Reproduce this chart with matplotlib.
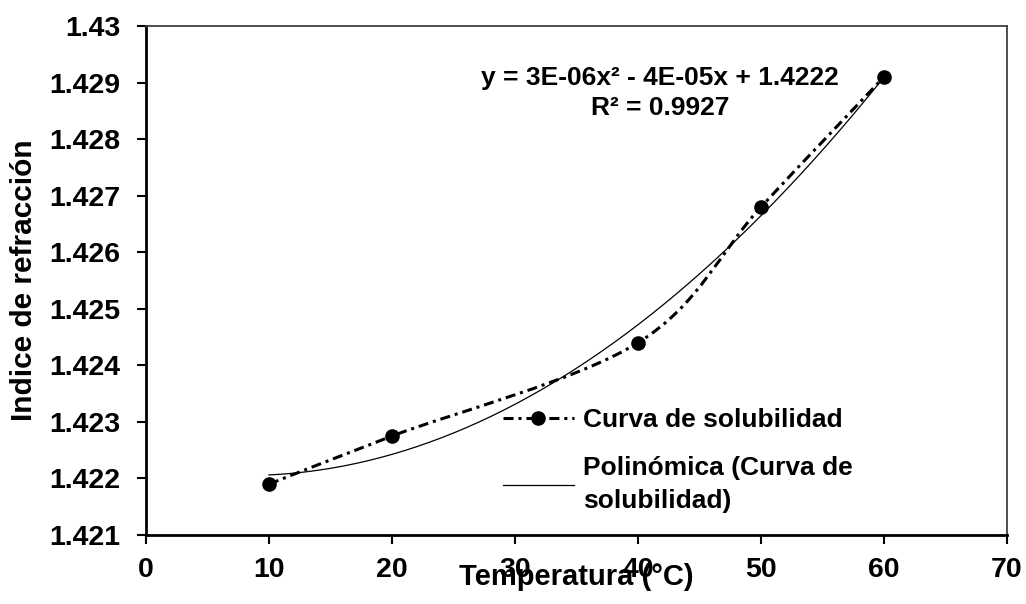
import numpy as np
import matplotlib
matplotlib.use("Agg")
import matplotlib.pyplot as plt
from matplotlib.path import Path
from matplotlib.patches import PathPatch
from matplotlib.lines import Line2D

plt.rcParams['font.family'] = ['Liberation Sans', 'DejaVu Sans']
plt.rcParams['font.weight'] = 'bold'

# Datos
temperatura = np.array([10, 20, 40, 50, 60])
indice = np.array([1.4219, 1.42275, 1.4244, 1.4268, 1.4291])
x_ticks = [0, 10, 20, 30, 40, 50, 60, 70]
y_ticks = [1.421, 1.422, 1.423, 1.424, 1.425, 1.426, 1.427, 1.428, 1.429, 1.43]
y_labels = ["1.421", "1.422", "1.423", "1.424", "1.425", "1.426", "1.427", "1.428", "1.429", "1.43"]
ecuacion = "y = 3E-06x² - 4E-05x + 1.4222\nR² = 0.9927"

fig = plt.figure(figsize=(10.26, 6.04), dpi=100)
ax = fig.add_axes([0.1423, 0.1142, 0.8392, 0.8428])

# Linea suavizada (estilo Excel: Bezier tipo Catmull-Rom)
pts = np.column_stack([temperatura, indice])
verts = [pts[0]]
codes = [Path.MOVETO]
n = len(pts)
for i in range(n - 1):
    p0 = pts[i - 1] if i > 0 else pts[i]
    p1 = pts[i]
    p2 = pts[i + 1]
    p3 = pts[i + 2] if i + 2 < n else pts[i + 1]
    c1 = p1 + (p2 - p0) / 6.0
    c2 = p2 - (p3 - p1) / 6.0
    verts += [c1, c2, p2]
    codes += [Path.CURVE4] * 3
estilo = (0, (3.3, 1.6, 1.0, 1.6))
ax.add_patch(PathPatch(Path(verts, codes), facecolor='none', edgecolor='black',
                       lw=2.2, linestyle=estilo, zorder=3))
ax.plot(temperatura, indice, 'o', color='black', markersize=9.5, zorder=4)

# Linea de tendencia polinomica
coef = np.polyfit(temperatura, indice, 2)
modelo = np.poly1d(coef)
x_line = np.linspace(temperatura.min(), temperatura.max(), 200)
ax.plot(x_line, modelo(x_line), color='black', lw=0.9, zorder=2)

ax.text(41.8, 1.42882, ecuacion, ha='center', va='center', fontsize=19,
        fontweight='bold', linespacing=1.3)

ax.set_xlim(0, 70)
ax.set_ylim(1.421, 1.43)
ax.set_xticks(x_ticks)
ax.set_yticks(y_ticks)
ax.set_yticklabels(y_labels)
ax.tick_params(direction='out', length=6.5, width=1.5, labelsize=20.5)
ax.tick_params(axis='y', pad=12)
ax.tick_params(axis='x', pad=9)
for lab in ax.get_xticklabels() + ax.get_yticklabels():
    lab.set_fontweight('bold')

for s in ['left', 'bottom']:
    ax.spines[s].set_linewidth(2)
for s in ['top', 'right']:
    ax.spines[s].set_linewidth(1.3)
    ax.spines[s].set_color('#404040')

ax.set_xlabel("Temperatura (°C)", fontsize=21, fontweight='bold', labelpad=-14)
ax.set_ylabel("Indice de refracción", fontsize=21.5, fontweight='bold', labelpad=8)

h1 = Line2D([], [], color='black', lw=2.2, linestyle=estilo, marker='o', markersize=9.5)
h2 = Line2D([], [], color='black', lw=0.9)
leg = ax.legend([h1, h2], ["Curva de solubilidad", "Polinómica (Curva de\nsolubilidad)"],
                loc='upper left', bbox_to_anchor=(479 / 1026, 1 - 384 / 604),
                bbox_transform=fig.transFigure, frameon=False,
                prop={'size': 19, 'weight': 'bold'}, handlelength=2.7,
                handletextpad=0.35, labelspacing=0.9)
for t in leg.get_texts():
    t.set_linespacing(1.5)

fig.savefig("out.png", dpi=100)
